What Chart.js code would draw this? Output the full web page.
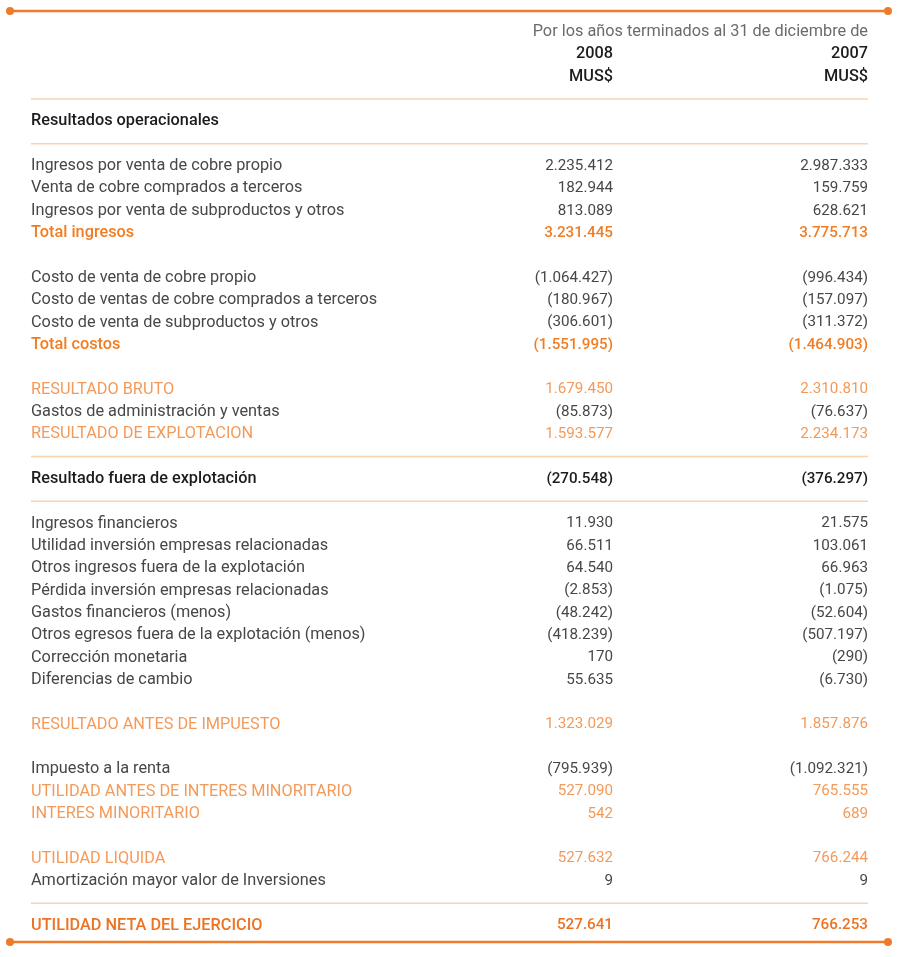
<!DOCTYPE html>
<html>
<head>
<meta charset="utf-8">
<script src="https://cdn.jsdelivr.net/npm/chart.js@4.4.1/dist/chart.umd.min.js"></script>
<style>
  html, body { margin: 0; padding: 0; background: #fff; }
  #wrap { width: 900px; height: 957px; }
</style>
</head>
<body>
<div id="wrap"><canvas id="tbl" width="900" height="957"></canvas></div>
<script>
// header texts
const caption = "Por los años terminados al 31 de diciembre de";
const years = ["2008", "2007"];
const units = ["MUS$", "MUS$"];

// one entry per row slot (top to bottom)
const rowLabels = [
  "", "", "", "",
  "Resultados operacionales", "",
  "Ingresos por venta de cobre propio",
  "Venta de cobre comprados a terceros",
  "Ingresos por venta de subproductos y otros",
  "Total ingresos", "",
  "Costo de venta de cobre propio",
  "Costo de ventas de cobre comprados a terceros",
  "Costo de venta de subproductos y otros",
  "Total costos", "",
  "RESULTADO BRUTO",
  "Gastos de administración y ventas",
  "RESULTADO DE EXPLOTACION", "",
  "Resultado fuera de explotación", "",
  "Ingresos financieros",
  "Utilidad inversión empresas relacionadas",
  "Otros ingresos fuera de la explotación",
  "Pérdida inversión empresas relacionadas",
  "Gastos financieros (menos)",
  "Otros egresos fuera de la explotación (menos)",
  "Corrección monetaria",
  "Diferencias de cambio", "",
  "RESULTADO ANTES DE IMPUESTO", "",
  "Impuesto a la renta",
  "UTILIDAD ANTES DE INTERES MINORITARIO",
  "INTERES MINORITARIO", "",
  "UTILIDAD LIQUIDA",
  "Amortización mayor valor de Inversiones", "",
  "UTILIDAD NETA DEL EJERCICIO", ""
];

const rowKinds = [
  "caption", "year", "unit", "rule",
  "head", "rule",
  "item", "item", "item", "total", "blank",
  "item", "item", "item", "total", "blank",
  "result", "item", "result", "rule",
  "head", "rule",
  "item", "item", "item", "item", "item", "item", "item", "item", "blank",
  "result", "blank",
  "item", "result", "result", "blank",
  "result", "item", "rule",
  "final", "blank"
];

const values2008 = [
  null, null, null, null, null, null,
  2235412, 182944, 813089, 3231445, null,
  -1064427, -180967, -306601, -1551995, null,
  1679450, -85873, 1593577, null,
  -270548, null,
  11930, 66511, 64540, -2853, -48242, -418239, 170, 55635, null,
  1323029, null,
  -795939, 527090, 542, null,
  527632, 9, null,
  527641, null
];

const values2007 = [
  null, null, null, null, null, null,
  2987333, 159759, 628621, 3775713, null,
  -996434, -157097, -311372, -1464903, null,
  2310810, -76637, 2234173, null,
  -376297, null,
  21575, 103061, 66963, -1075, -52604, -507197, -290, -6730, null,
  1857876, null,
  -1092321, 765555, 689, null,
  766244, 9, null,
  766253, null
];

const FONT = "Roboto, 'Open Sans', sans-serif";
const LABEL_SIZE = "16.3px ";
const NUM_SIZE = "15.2px ";
const styles = {
  item:   { color: "#474747", weight: "400" },
  head:   { color: "#1c1c1c", weight: "500" },
  total:  { color: "#f07d23", weight: "500" },
  result: { color: "#f39a5a", weight: "400" },
  final:  { color: "#ec7322", weight: "500" }
};

function fmt(n) {
  const s = String(Math.abs(n)).replace(/\B(?=(\d{3})+(?!\d))/g, ".");
  return n < 0 ? "(" + s + ")" : s;
}

const LEFT = 31, COL1 = 613, COL2 = 868;

const tablePlugin = {
  id: "tableText",
  afterDraw(chart) {
    const ctx = chart.ctx;
    const y = chart.scales.y;
    ctx.save();
    ctx.textBaseline = "middle";

    // orange frame lines with dots
    [11, 942].forEach(py => {
      ctx.strokeStyle = "#ee7b2c";
      ctx.lineWidth = 2.5;
      ctx.beginPath();
      ctx.moveTo(10, py);
      ctx.lineTo(888, py);
      ctx.stroke();
      ctx.fillStyle = "#ee7b2c";
      [10, 888].forEach(px => {
        ctx.beginPath();
        ctx.arc(px, py, 4, 0, Math.PI * 2);
        ctx.fill();
      });
    });

    rowKinds.forEach((kind, i) => {
      const py = y.getPixelForValue(i);
      if (kind === "caption") {
        ctx.font = "400 " + LABEL_SIZE + FONT;
        ctx.fillStyle = "#6b6b6b";
        ctx.textAlign = "right";
        ctx.fillText(caption, COL2, py);
      } else if (kind === "year" || kind === "unit") {
        const t = kind === "year" ? years : units;
        ctx.font = "500 " + LABEL_SIZE + FONT;
        ctx.fillStyle = "#1c1c1c";
        ctx.textAlign = "right";
        ctx.fillText(t[0], COL1, py);
        ctx.fillText(t[1], COL2, py);
      } else if (kind === "rule") {
        ctx.strokeStyle = "#f9d2ae";
        ctx.lineWidth = 1.5;
        ctx.beginPath();
        ctx.moveTo(LEFT, py);
        ctx.lineTo(COL2, py);
        ctx.stroke();
      } else if (styles[kind]) {
        const st = styles[kind];
        ctx.fillStyle = st.color;
        ctx.font = st.weight + " " + LABEL_SIZE + FONT;
        ctx.textAlign = "left";
        ctx.fillText(rowLabels[i], LEFT, py);
        ctx.font = st.weight + " " + NUM_SIZE + FONT;
        ctx.textAlign = "right";
        if (values2008[i] !== null) ctx.fillText(fmt(values2008[i]), COL1, py);
        if (values2007[i] !== null) ctx.fillText(fmt(values2007[i]), COL2, py);
      }
    });
    ctx.restore();
  }
};

new Chart(document.getElementById("tbl"), {
  type: "bar",
  data: {
    labels: rowLabels.map((l, i) => i),
    datasets: [{ data: rowLabels.map(() => null), backgroundColor: "rgba(0,0,0,0)" }]
  },
  options: {
    indexAxis: "y",
    responsive: false,
    animation: false,
    devicePixelRatio: 1,
    layout: { padding: { top: 32, bottom: 9, left: 0, right: 0 } },
    scales: {
      y: { type: "category", offset: false, display: false },
      x: { display: false }
    },
    plugins: { legend: { display: false }, tooltip: { enabled: false } }
  },
  plugins: [tablePlugin]
});
</script>
</body>
</html>
